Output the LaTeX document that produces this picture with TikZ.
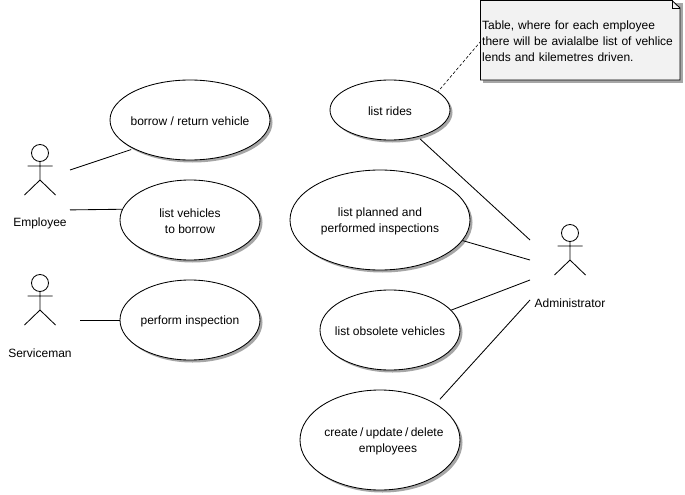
\documentclass[tikz,border=0pt]{standalone}
\usepackage{fontspec}
\setmainfont{Liberation Sans}
\usetikzlibrary{shapes.geometric,shadows}
\newcommand\ctl[1]{\makebox[0pt][c]{\rule{0pt}{11pt}#1}}
\newcommand\ctn[1]{\makebox[0pt][c]{#1}}
\tikzset{
  ln/.style={draw=black,line width=0.85pt},
  uc/.style={shape=ellipse,draw=black,fill=white,line width=0.85pt,inner sep=0pt,align=center,
    drop shadow={shadow xshift=2.5pt,shadow yshift=-2.5pt,opacity=1,fill=black!35}},
  lbl/.style={inner sep=0pt,align=center},
  txt/.style={font=\fontsize{12}{16}\selectfont},
  pics/actor/.style={code={
    \draw[ln] (0,0) circle (8.5);
    \draw[ln] (0,8.5) -- (0,27) (-12.5,13) -- (12.5,13) (-15.5,42) -- (0,27) -- (15.5,42);
  }}
}
\begin{document}
\begin{tikzpicture}[x=1pt,y=-1pt,txt]
\useasboundingbox (0,0) rectangle (685,495);
\fill[white] (0,0) rectangle (685,495);
% actors
\pic at (40,153) {actor};
\pic at (40,283) {actor};
\pic at (570,233) {actor};
\node[lbl] (employee) at (40,223) {Employee};
\node[lbl] (serviceman) at (40,353) {Serviceman};
\node[lbl] (administrator) at (570,303) {Administrator};
% use cases
\node[uc,minimum width=160pt,minimum height=80pt] (borrow) at (190,120) {\ctl{borrow / return vehicle}};
\node[uc,minimum width=140pt,minimum height=80pt] (vehicles) at (190,220) {\ctl{list vehicles}\\\ctn{to borrow}};
\node[uc,minimum width=140pt,minimum height=80pt] (inspect) at (190,320) {\ctl{perform inspection}};
\node[uc,minimum width=120pt,minimum height=60pt] (rides) at (390,110) {\ctl{list rides}};
\node[uc,minimum width=180pt,minimum height=100pt] (planned) at (380,220) {\ctl{list planned and}\\\ctn{performed inspections}};
\node[uc,minimum width=140pt,minimum height=80pt] (obsolete) at (390,330) {\ctl{list obsolete vehicles}};
\node[uc,minimum width=160pt,minimum height=100pt] (create) at (380,440) {\ctl{\hspace*{8pt}\spaceskip=2.4pt create / update / delete}\\\ctn{\hspace*{16pt}employees}};
% note
\fill[black!35] (483,3) rectangle (683,83);
\filldraw[ln,fill=black!5] (480.5,0.5) -- (672,0.5) -- (680,8) -- (680,80) -- (480.5,80) -- cycle;
\draw[ln] (672,0.5) -- (672,8) -- (680,8);
\node[inner sep=0pt,text width=198pt,align=left,anchor=west] (note) at (482,41.5) {Table, where for each employee\\there will be avialalbe list of vehlice\\lends and kilemetres driven.};
% connector ends
\coordinate (e1) at (70,170);
\coordinate (e2) at (70,209.9);
\coordinate (s1) at (80,320);
\coordinate (a1) at (530,240);
\coordinate (a2) at (530,260);
\coordinate (a3) at (530,280);
\coordinate (a4) at (530,300);
\coordinate (n1) at (481,41);
% connectors
\draw[ln,shorten >=2.5pt] (e1) -- (borrow.207);
\draw[ln] (e2) -- (vehicles.171.8);
\draw[ln] (s1) -- (inspect);
\draw[ln,shorten >=3pt] (a1) -- (rides.-44);
\draw[ln] (a2) -- (planned.-14);
\draw[ln] (a3) -- (obsolete.18);
\draw[ln,shorten >=6pt] (a4) -- (create.33);
\draw[line width=0.6pt,dash pattern=on 3pt off 2pt] (n1) -- (rides.21);
\end{tikzpicture}
\end{document}
